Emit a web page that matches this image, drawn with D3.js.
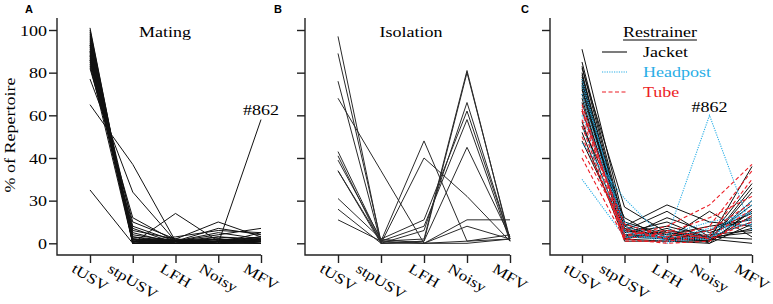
<!DOCTYPE html>
<html>
<head>
<meta charset="utf-8">
<script src="https://cdn.jsdelivr.net/npm/d3@7"></script>
<style>
body { margin: 0; background: #fff; }
svg { display: block; }
text { font-family: "Liberation Serif", "Times New Roman", serif; }
.letter { font-family: "Liberation Sans", Arial, sans-serif; font-weight: bold; }
</style>
</head>
<body>
<svg id="chart" width="773" height="304"></svg>
<script>
// categories and axis ticks
const categories = ['tUSV', 'stpUSV', 'LFH', 'Noisy', 'MFV'];
const yTickValues = [0, 20, 40, 60, 80, 100];
const yTickLabels = ['0', '30', '40', '60', '80', '100'];

// % of repertoire per animal, order follows categories
const matingSeries = [
    [101, 0, 0, 0, 0], [100, 1, 0, 0, 1], [99, 0, 1, 0, 0], [98, 2, 0, 1, 1],
    [97, 0, 0, 2, 0], [96, 1, 1, 0, 2], [95, 3, 0, 1, 0], [94, 0, 2, 1, 1],
    [93, 2, 1, 0, 2], [92, 1, 0, 3, 1], [91, 4, 1, 2, 0], [90, 0, 0, 1, 3],
    [89, 2, 1, 5, 2], [88, 5, 0, 1, 1], [87, 1, 2, 0, 2], [86, 3, 1, 7, 4],
    [85, 7, 0, 2, 1], [84, 0, 14, 1, 2], [83, 10, 2, 0, 5], [82, 12, 1, 3, 2],
    [86, 6, 2, 10, 3], [88, 2, 0, 0, 58], [77, 24, 1, 0, 1], [65, 37, 1, 2, 1],
    [25, 0, 1, 4, 7], [90, 1, 3, 6, 5], [93, 8, 1, 1, 3]
];
const isolationSeries = [
    [97, 0, 1, 80, 2], [89, 1, 2, 81, 1], [76, 0, 6, 66, 2], [68, 34, 0, 0, 2],
    [43, 1, 48, 1, 2], [41, 0, 40, 22, 1], [39, 2, 11, 62, 2], [34, 1, 8, 58, 1],
    [34, 0, 1, 45, 3], [21, 2, 0, 11, 11], [16, 0, 0, 8, 2], [11, 1, 0, 1, 4]
];
const jacketSeries = [
    [91, 10, 4, 2, 36], [85, 8, 18, 10, 8], [83, 6, 15, 3, 28], [82, 17, 5, 3, 2],
    [80, 4, 3, 1, 26], [79, 5, 10, 2, 0], [78, 3, 12, 5, 12], [77, 7, 2, 1, 15],
    [76, 2, 6, 3, 10], [75, 9, 3, 6, 14], [74, 1, 1, 0, 9], [73, 5, 8, 3, 18],
    [72, 3, 2, 2, 7], [70, 6, 4, 8, 11], [68, 2, 1, 1, 13], [66, 4, 5, 2, 20],
    [62, 8, 2, 4, 6], [57, 3, 3, 1, 24], [55, 12, 1, 3, 5], [52, 2, 7, 0, 16],
    [48, 6, 2, 15, 3]
];
const headpostSeries = [
    [77, 5, 3, 2, 20], [74, 8, 1, 4, 12], [70, 3, 3, 60, 6], [64, 6, 0, 6, 15],
    [55, 4, 4, 10, 14], [47, 21, 1, 3, 10], [30, 3, 2, 7, 9], [60, 10, 1, 2, 18]
];
const tubeSeries = [
    [65, 3, 8, 18, 37], [63, 6, 2, 4, 30], [62, 2, 5, 12, 22], [58, 9, 3, 8, 34],
    [55, 1, 1, 3, 16], [50, 4, 6, 2, 10], [44, 7, 2, 6, 19], [40, 2, 0, 1, 13]
];

const svg = d3.select('#chart');
const SX = 1.2;          // the source type is set wide
const FONT = 15;
const SERIF = '"Liberation Serif", "Times New Roman", serif';
const blue = '#2aaee6';
const red = '#ec1c24';

const y = d3.scaleLinear().domain([0, 100]).range([243.3, 30]);
const axisY = 255;
const labelAngle = 31;

// text placed at (x, y), optionally rotated, and widened along its baseline
function wideText(g, x, yy, str, opts = {}) {
    return g.append('text')
        .attr('transform', `translate(${x},${yy}) rotate(${opts.rotate || 0}) scale(${SX},1)`)
        .attr('text-anchor', opts.anchor || 'start')
        .attr('dy', opts.dy || 0)
        .style('font-family', SERIF)
        .style('font-size', (opts.size || FONT) + 'px')
        .style('fill', opts.color || '#000')
        .text(str);
}

function drawPanel(cfg) {
    const g = svg.append('g');
    const x = d3.scalePoint().domain(categories).range([cfg.x0, cfg.x1]);

    // y axis ticks
    const yAxis = g.append('g')
        .attr('transform', `translate(${cfg.left},0)`)
        .call(d3.axisLeft(y).tickValues(yTickValues).tickSize(8)
            .tickFormat((d, i) => cfg.yLabels ? yTickLabels[i] : ''))
        .attr('font-family', SERIF);
    yAxis.select('.domain').remove();
    yAxis.selectAll('line').attr('stroke', '#222').attr('stroke-width', 1.4);
    yAxis.selectAll('text')
        .attr('x', null).attr('dy', '0.34em')
        .attr('transform', `translate(-10,0) scale(${SX},1)`)
        .style('font-family', SERIF)
        .style('font-size', FONT + 'px')
        .attr('fill', '#000');

    // x axis ticks
    const xAxis = g.append('g')
        .attr('transform', `translate(0,${axisY})`)
        .call(d3.axisBottom(x).tickSize(8).tickFormat(''));
    xAxis.select('.domain').remove();
    xAxis.selectAll('line').attr('stroke', '#222').attr('stroke-width', 1.4);

    // L-shaped frame
    g.append('path')
        .attr('d', `M${cfg.left},18V${axisY}H${cfg.x1}`)
        .attr('fill', 'none').attr('stroke', '#222').attr('stroke-width', 1.4);

    // rotated category labels, tops aligned just under the ticks
    const rad = labelAngle * Math.PI / 180;
    categories.forEach(c => {
        const t = wideText(g, 0, 0, c, {anchor: 'middle', dy: '0.32em', size: 14.5});
        const len = t.node().getComputedTextLength() * SX;
        const cy = 263 + Math.sin(rad) * len / 2 + 5 * Math.cos(rad);
        t.attr('transform', `translate(${x(c)},${cy}) rotate(${labelAngle}) scale(${SX},1)`);
    });

    // lines
    const line = d3.line()
        .x((d, i) => x(categories[i]))
        .y(d => y(d));
    cfg.series.forEach(s => {
        g.append('g').selectAll('path')
            .data(s.data)
            .join('path')
            .attr('d', line)
            .attr('fill', 'none')
            .attr('stroke', s.color)
            .attr('stroke-width', s.width || 1)
            .attr('stroke-dasharray', s.dash || null);
    });

    // panel letter and title
    g.append('text').attr('class', 'letter')
        .attr('x', cfg.letterX).attr('y', 13)
        .style('font-size', '11px')
        .text(cfg.letter);
    if (cfg.title) wideText(g, cfg.titleX, 37, cfg.title, {anchor: 'middle'});
    return {g, x};
}

const a = drawPanel({
    left: 57, x0: 90, x1: 261, letter: 'A', letterX: 25, yLabels: true,
    title: 'Mating', titleX: 165,
    series: [{data: matingSeries, color: '#111'}]
});
wideText(a.g, a.x('MFV'), 115, '#862', {anchor: 'middle'});
wideText(a.g, 15, 135, '% of Repertoire', {anchor: 'middle', rotate: -90});

drawPanel({
    left: 305, x0: 338, x1: 510, letter: 'B', letterX: 274,
    title: 'Isolation', titleX: 411,
    series: [{data: isolationSeries, color: '#2a2a2a'}]
});

const c = drawPanel({
    left: 550, x0: 582, x1: 752, letter: 'C', letterX: 521,
    series: [
        {data: jacketSeries, color: '#111'},
        {data: headpostSeries, color: blue, dash: '1.2,1.2', width: 1.1},
        {data: tubeSeries, color: red, dash: '4,2.5', width: 1.1}
    ]
});
wideText(c.g, c.x('Noisy'), 112, '#862', {anchor: 'middle'});

// legend
const legend = c.g.append('g');
const title = wideText(legend, 660, 37, 'Restrainer', {anchor: 'middle'});
const tw = title.node().getComputedTextLength() * SX;
legend.append('line')
    .attr('x1', 660 - tw / 2).attr('x2', 660 + tw / 2)
    .attr('y1', 40).attr('y2', 40)
    .attr('stroke', '#000').attr('stroke-width', 1);
const legendItems = [
    {name: 'Jacket', color: '#111', text: '#000', dash: null},
    {name: 'Headpost', color: blue, text: blue, dash: '1.2,1.2'},
    {name: 'Tube', color: red, text: red, dash: '4,2.5'}
];
legendItems.forEach((d, i) => {
    const ly = 52 + i * 20;
    legend.append('line')
        .attr('x1', 602).attr('x2', 627).attr('y1', ly).attr('y2', ly)
        .attr('stroke', d.color).attr('stroke-width', 1.1)
        .attr('stroke-dasharray', d.dash);
    wideText(legend, 643, ly + 5, d.name, {color: d.text});
});
</script>
</body>
</html>
